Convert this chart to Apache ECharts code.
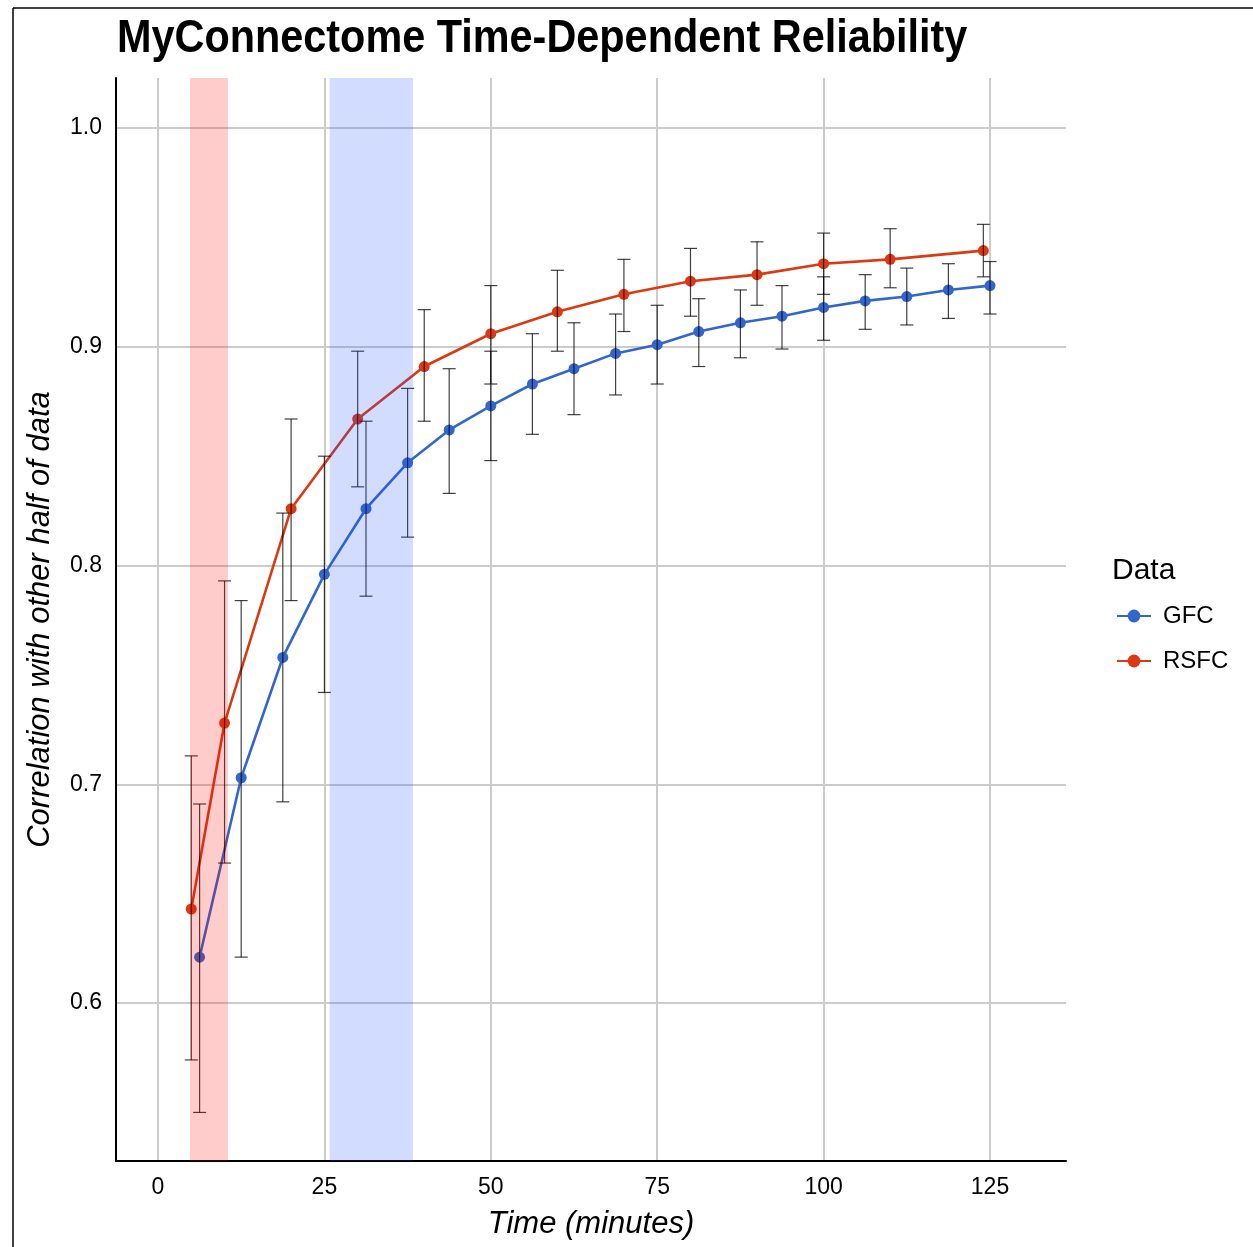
<!DOCTYPE html>
<html>
<head>
<meta charset="utf-8">
<script src="https://cdn.jsdelivr.net/npm/echarts@6/dist/echarts.min.js"></script>
<style>
html,body{margin:0;padding:0;background:#fff;}
#chart{width:1253px;height:1247px;}
</style>
</head>
<body>
<div id="chart"></div>
<script>
// ---- data ----
const gfcTime = [6.25,12.5,18.75,25,31.25,37.5,43.75,50,56.25,62.5,68.75,75,81.25,87.5,93.75,100,106.25,112.5,118.75,125];
const gfcMean = [0.621,0.703,0.758,0.796,0.826,0.847,0.862,0.873,0.883,0.890,0.897,0.901,0.907,0.911,0.914,0.918,0.921,0.923,0.926,0.928];
const gfcHigh = [0.691,0.784,0.824,0.850,0.866,0.881,0.890,0.898,0.906,0.911,0.915,0.919,0.922,0.926,0.928,0.932,0.933,0.936,0.938,0.939];
const gfcLow  = [0.550,0.621,0.692,0.742,0.786,0.813,0.833,0.848,0.860,0.869,0.878,0.883,0.891,0.895,0.899,0.903,0.908,0.910,0.913,0.915];

const rsfcTime = [5,10,20,30,40,50,60,70,80,90,100,110,124];
const rsfcMean = [0.643,0.728,0.826,0.867,0.891,0.906,0.916,0.924,0.930,0.933,0.938,0.940,0.944];
const rsfcHigh = [0.713,0.793,0.867,0.898,0.917,0.928,0.935,0.940,0.945,0.948,0.952,0.954,0.956];
const rsfcLow  = [0.574,0.664,0.784,0.836,0.866,0.883,0.898,0.907,0.914,0.919,0.924,0.927,0.932];

const bandStart = [4.8, 25.8];
const bandEnd   = [10.5, 38.3];
const bandColors = ['rgba(255,0,0,0.2)', 'rgba(30,80,255,0.2)'];

const xTicks = [0,25,50,75,100,125];
const yTicks = [0.6,0.7,0.8,0.9,1.0];

const titleText = 'MyConnectome Time-Dependent Reliability';
const xTitle = 'Time (minutes)';
const yTitle = 'Correlation with other half of data';
const legendTitle = 'Data';

// ---- build ----
const FONT = '"Liberation Sans", Arial, Helvetica, sans-serif';
const BLUE = '#3366cc', RED = '#dc3912';

function pairs(xs, ys){ return xs.map((x,i)=>[x, ys[i]]); }
function errData(xs, lo, hi){ return xs.map((x,i)=>[x, lo[i], hi[i]]); }

function errRender(params, api){
  const x = api.value(0), lo = api.value(1), hi = api.value(2);
  const p1 = api.coord([x, lo]);
  const p2 = api.coord([x, hi]);
  const w = 6.5;
  const style = {stroke: 'rgba(0,0,0,0.75)', lineWidth: 1.2};
  return {
    type: 'group',
    children: [
      {type:'line', shape:{x1:p1[0], y1:p1[1], x2:p2[0], y2:p2[1]}, style},
      {type:'line', shape:{x1:p1[0]-w, y1:p1[1], x2:p1[0]+w, y2:p1[1]}, style},
      {type:'line', shape:{x1:p2[0]-w, y1:p2[1], x2:p2[0]+w, y2:p2[1]}, style}
    ]
  };
}

const chart = echarts.init(document.getElementById('chart'), null, {renderer:'canvas'});

const yMin = 0.5278, yMax = 1.0229;
const xMin = -6.31, xMax = 136.42;

const option = {
  backgroundColor: '#fff',
  animation: false,
  grid: {left: 116, top: 78, right: 187, bottom: 86, containLabel: false},
  legend: {
    orient: 'vertical',
    left: 1116, top: 604, padding: 0,
    itemWidth: 34, itemHeight: 16, itemGap: 21,
    data: ['GFC', 'RSFC'],
    textStyle: {fontFamily: FONT, fontSize: 24, color: '#000', padding: [0,0,0,7]}
  },
  xAxis: {
    type: 'value', min: xMin, max: xMax,
    name: xTitle, nameLocation: 'middle', nameGap: 48,
    nameTextStyle: {fontFamily: FONT, fontStyle: 'italic', fontSize: 31, color: '#000'},
    axisLine: {show: true, onZero: false, lineStyle: {color: '#000', width: 2}},
    axisTick: {show: false, customValues: xTicks},
    axisLabel: {customValues: xTicks, margin: 15, fontFamily: FONT, fontSize: 23, color: '#000'},
    splitLine: {show: true, lineStyle: {color: '#cccccc', width: 2}}
  },
  yAxis: {
    type: 'value', min: yMin, max: yMax,
    name: yTitle, nameLocation: 'middle', nameGap: 60, nameRotate: 90,
    nameTextStyle: {fontFamily: FONT, fontStyle: 'italic', fontSize: 31, color: '#000'},
    axisLine: {show: true, onZero: false, lineStyle: {color: '#000', width: 2}},
    axisTick: {show: false, customValues: yTicks},
    axisLabel: {customValues: yTicks, margin: 14, fontFamily: FONT, fontSize: 23, color: '#000',
      formatter: v => v.toFixed(1)},
    splitLine: {show: true, lineStyle: {color: '#cccccc', width: 2}}
  },
  series: [
    {
      name: 'GFC', type: 'line', z: 3,
      data: pairs(gfcTime, gfcMean),
      symbol: 'circle', symbolSize: 11, showSymbol: true,
      lineStyle: {color: BLUE, width: 2.6}, itemStyle: {color: BLUE}
    },
    {
      name: 'RSFC', type: 'line', z: 3,
      data: pairs(rsfcTime, rsfcMean),
      symbol: 'circle', symbolSize: 11, showSymbol: true,
      lineStyle: {color: RED, width: 2.6}, itemStyle: {color: RED}
    },
    {
      name: 'errGFC', type: 'custom', z: 5, silent: true,
      renderItem: errRender, data: errData(gfcTime, gfcLow, gfcHigh),
      encode: {x: 0, y: [1, 2]}
    },
    {
      name: 'errRSFC', type: 'custom', z: 5, silent: true,
      renderItem: errRender, data: errData(rsfcTime, rsfcLow, rsfcHigh),
      encode: {x: 0, y: [1, 2]}
    },
    {
      name: 'bands', type: 'custom', z: 8, silent: true,
      data: bandStart.map((s,i)=>[s, bandEnd[i], i]),
      encode: {x: [0, 1]},
      renderItem: function(params, api){
        const a = api.coord([api.value(0), yMax]);
        const b = api.coord([api.value(1), yMin]);
        return {type:'rect', shape:{x:a[0], y:a[1], width:b[0]-a[0], height:b[1]-a[1]},
          style:{fill: bandColors[api.value(2)]}};
      }
    }
  ],
  graphic: [
    {type:'text', x: 117, y: 39, scaleX: 0.9,
      style:{text: titleText, font: 'bold 46px ' + FONT, fill:'#000', verticalAlign:'middle'}},
    {type:'text', left: 1112, top: 556, style:{text: legendTitle, font: '30px ' + FONT, fill:'#000'}},
    {type:'line', shape:{x1:13, y1:8, x2:1253, y2:8}, style:{stroke:'#000', lineWidth:1.5}},
    {type:'line', shape:{x1:13, y1:8, x2:13, y2:1247}, style:{stroke:'#000', lineWidth:1.5}}
  ]
};
chart.setOption(option);
</script>
</body>
</html>
